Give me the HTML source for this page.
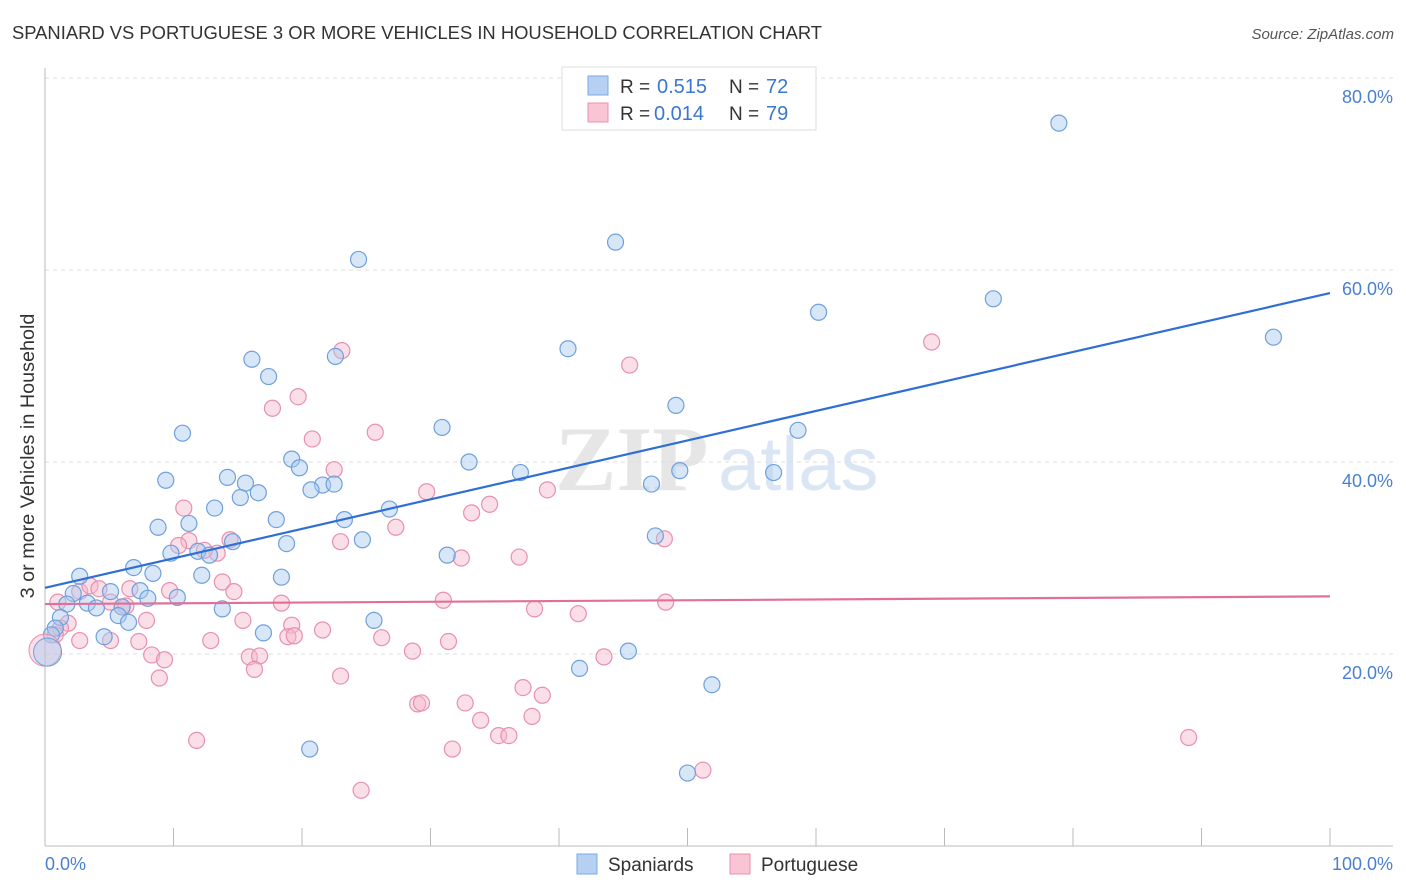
<!DOCTYPE html>
<html><head><meta charset="utf-8"><style>
body{margin:0;background:#fff;font-family:"Liberation Sans",sans-serif}
svg{display:block}
</style></head><body>
<svg width="1406" height="892" viewBox="0 0 1406 892">
<text x="12" y="39" font-size="18.4" fill="#333">SPANIARD VS PORTUGUESE 3 OR MORE VEHICLES IN HOUSEHOLD CORRELATION CHART</text>
<text x="1394" y="39" font-size="15" fill="#555" font-style="italic" text-anchor="end">Source: ZipAtlas.com</text>
<g>
<text x="555" y="490" font-size="92" fill="#e6e6e6" font-family="Liberation Serif,serif" font-weight="bold">ZIP</text>
<text x="718" y="490" font-size="76" fill="#dbe6f5">atlas</text>
</g>
<g id="grid"></g>
<g id="axes"></g>
<g id="pts"></g>
<g id="lines"></g>
<text transform="translate(34,456) rotate(-90)" font-size="19.8" fill="#333" text-anchor="middle">3 or more Vehicles in Household</text>
<text x="45" y="870" font-size="18" fill="#4a7fd0">0.0%</text>
<text x="1393" y="870" font-size="18" fill="#4a7fd0" text-anchor="end">100.0%</text>
<g>
<rect x="562" y="67" width="254" height="63" fill="#fff" stroke="#ddd"/>
<rect x="588" y="76" width="20" height="19" fill="#b5d0f3" stroke="#7aaae0"/>
<rect x="588" y="103" width="20" height="19" fill="#f9c5d5" stroke="#e890ad"/>
<text x="620" y="93" font-size="19" fill="#333">R =</text>
<text x="657" y="93" font-size="20" fill="#3b76d0">0.515</text>
<text x="729" y="93" font-size="19" fill="#333">N =</text>
<text x="766" y="93" font-size="20" fill="#3b76d0">72</text>
<text x="620" y="120" font-size="19" fill="#333">R =</text>
<text x="654" y="120" font-size="20" fill="#3b76d0">0.014</text>
<text x="729" y="120" font-size="19" fill="#333">N =</text>
<text x="766" y="120" font-size="20" fill="#3b76d0">79</text>
</g>
<g>
<rect x="577" y="854" width="20" height="20" fill="#b5d0f3" stroke="#7aaae0"/>
<text x="608" y="871" font-size="19" fill="#333">Spaniards</text>
<rect x="730" y="854" width="20" height="20" fill="#f9c5d5" stroke="#e890ad"/>
<text x="761" y="871" font-size="19" fill="#333">Portuguese</text>
</g>
</svg>
<script>
const yTicks=[20,40,60,80];
const yTickLabels=["20.0%","40.0%","60.0%","80.0%"];
const blueX=[78.9,44.4,24.4,73.8,60.2,95.6,40.7,16.1,22.6,17.4,49.1,10.7,30.9,58.6,19.2,33.0,19.8,9.4,14.2,37.0,49.4,56.7,15.6,47.2,21.6,20.7,22.5,16.6,15.2,13.2,26.8,11.2,18.0,23.3,8.8,47.5,14.6,24.7,18.8,9.8,31.3,11.9,12.8,6.9,2.7,8.4,12.2,18.4,5.1,7.4,2.2,8.0,10.3,1.7,3.3,4.0,6.0,13.8,5.7,6.5,1.2,25.6,0.8,17.0,4.6,0.5,45.4,41.6,51.9,20.6,50.0];
const blueY=[75.3,62.9,61.1,57.0,55.6,53.0,51.8,50.7,51.0,48.9,45.9,43.0,43.6,43.3,40.3,40.0,39.4,38.1,38.4,38.9,39.1,38.9,37.8,37.7,37.6,37.1,37.7,36.8,36.3,35.2,35.1,33.6,34.0,34.0,33.2,32.3,31.7,31.9,31.5,30.5,30.3,30.7,30.3,29.0,28.1,28.4,28.2,28.0,26.5,26.6,26.3,25.8,25.9,25.2,25.3,24.8,24.9,24.7,24.0,23.3,23.8,23.5,22.7,22.2,21.8,22.0,20.3,18.5,16.8,10.1,7.6];
const pinkX=[23.1,45.5,69.0,19.7,17.7,20.8,25.7,22.5,29.7,39.1,34.6,10.8,33.2,27.3,14.4,11.2,10.4,13.4,23.0,12.4,32.4,36.9,48.2,2.7,3.5,4.2,9.7,13.8,14.7,6.6,1.0,5.1,6.3,18.4,31.0,38.1,41.5,48.3,7.9,15.4,1.8,1.2,0.8,19.2,21.6,18.9,5.1,2.7,7.3,26.2,12.9,19.4,31.4,8.3,9.3,15.9,16.7,28.6,43.5,16.3,23.0,8.9,29.0,29.3,32.7,37.2,38.7,33.9,37.9,35.3,36.1,11.8,31.7,89.0,51.2,24.6,6.0];
const pinkY=[51.6,50.1,52.5,46.8,45.6,42.4,43.1,39.2,36.9,37.1,35.6,35.2,34.7,33.2,31.9,31.8,31.3,30.5,31.7,30.8,30.0,30.1,32.0,26.5,27.1,26.8,26.6,27.5,26.5,26.8,25.4,25.4,25.0,25.3,25.6,24.7,24.2,25.4,23.5,23.5,23.2,22.7,22.0,23.0,22.5,21.8,21.4,21.4,21.3,21.7,21.4,21.9,21.3,19.9,19.4,19.7,19.8,20.3,19.7,18.4,17.7,17.5,14.8,14.9,14.9,16.5,15.7,13.1,13.5,11.5,11.5,11.0,10.1,11.3,7.9,5.8,24.9];
const bigBlue=[0.2,20.2];
const bigPink=[0.0,20.4];
const blueTrend=[0,26.9,100,57.6];
const pinkTrend=[0,25.2,100,26.0];
const NS="http://www.w3.org/2000/svg";
const xs=v=>45+v*12.85, ys=v=>846-v*9.6;
function mk(tag,attrs,parent){const e=document.createElementNS(NS,tag);for(const k in attrs)e.setAttribute(k,attrs[k]);parent.appendChild(e);return e;}
const grid=document.getElementById('grid'),axes=document.getElementById('axes'),pts=document.getElementById('pts'),lines=document.getElementById('lines');
yTicks.forEach((t,i)=>{
 const l=mk('line',{x1:45,x2:1393,y1:ys(t),y2:ys(t),stroke:'#ddd','stroke-dasharray':'4,4'},grid);
 
 
 const tx=mk('text',{x:1393,y:ys(t)+25,'font-size':18,fill:'#4a7fd0','text-anchor':'end'},grid);
 tx.textContent=yTickLabels[i];
 
 
});
mk('line',{x1:45,x2:1393,y1:78,y2:78,stroke:'#ddd','stroke-dasharray':'4,4'},grid);
mk('line',{x1:45,x2:45,y1:68,y2:846,stroke:'#bbb'},axes);
mk('line',{x1:45,x2:1393,y1:846,y2:846,stroke:'#bbb'},axes);
for(let i=0;i<=10;i++){const t=mk('line',{x1:xs(i*10),x2:xs(i*10),y1:828,y2:846,stroke:'#bbb'},axes);
 
 }
function dots(X,Y,fill,stroke,name){X.forEach((x,i)=>{const c=mk('circle',{cx:xs(x),cy:ys(Y[i]),r:8,fill:fill,'fill-opacity':0.45,stroke:stroke,'stroke-width':1.2},pts);
 
 });}
dots(pinkX,pinkY,'#f5b8cb','#e890ad','portuguese-point');
dots(blueX,blueY,'#a9c9f0','#6fa0dc','spaniard-point');
let b1=mk('circle',{cx:xs(bigPink[0]),cy:ys(bigPink[1]),r:16,fill:'#f5b8cb','fill-opacity':0.45,stroke:'#e890ad'},pts);


let b2=mk('circle',{cx:xs(bigBlue[0]),cy:ys(bigBlue[1]),r:14,fill:'#a9c9f0','fill-opacity':0.45,stroke:'#6fa0dc'},pts);


const tb=mk('line',{x1:xs(blueTrend[0]),y1:ys(blueTrend[1]),x2:xs(blueTrend[2]),y2:ys(blueTrend[3]),stroke:'#2f6fd4','stroke-width':2.2},lines);


const tp=mk('line',{x1:xs(pinkTrend[0]),y1:ys(pinkTrend[1]),x2:xs(pinkTrend[2]),y2:ys(pinkTrend[3]),stroke:'#e0709a','stroke-width':2.2},lines);


</script>
</body></html>
